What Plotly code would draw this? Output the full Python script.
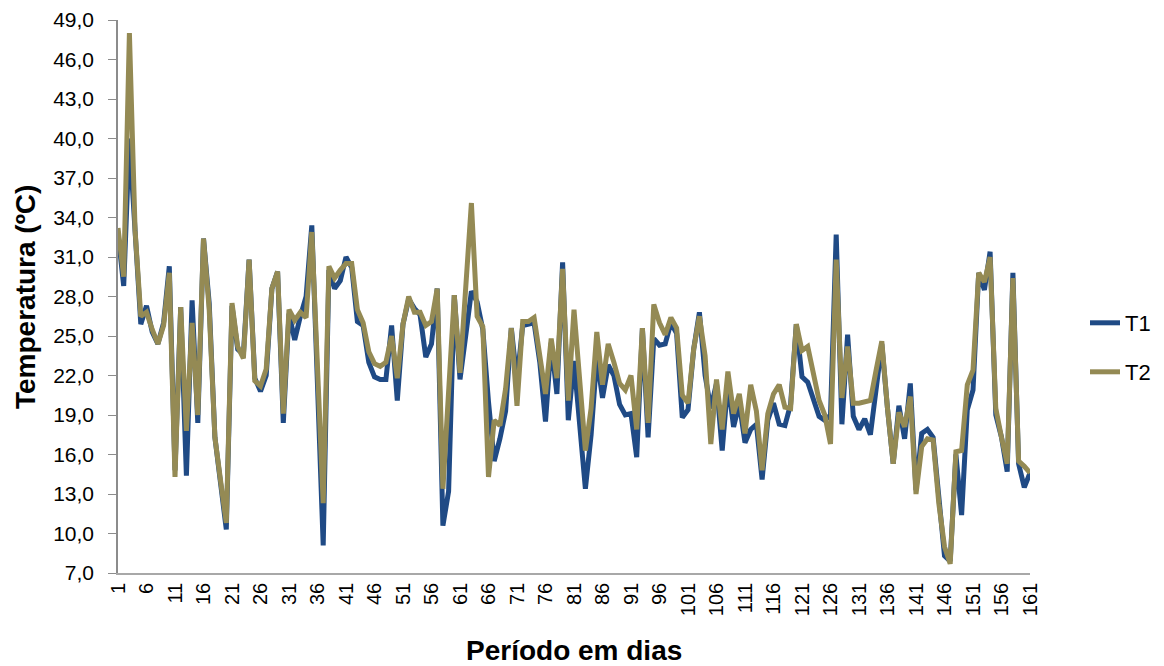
import plotly.graph_objects as go

days = list(range(1, 162))

t1 = [32.8, 28.8, 40.0, 33.0, 25.9, 27.3, 25.3, 24.4, 26.0, 30.3,
      14.8, 27.2, 14.4, 27.7, 18.4, 32.4, 27.5, 17.3, 13.8, 10.3,
      27.3, 24.0, 23.6, 30.8, 21.8, 20.8, 22.0, 28.6, 29.9, 18.4,
      26.7, 24.7, 26.5, 28.0, 33.4, 21.0, 9.1, 30.0, 28.6, 29.2,
      31.0, 30.2, 26.1, 25.8, 23.0, 21.9, 21.7, 21.7, 25.8, 20.1,
      25.9, 27.8, 27.1, 26.6, 23.4, 24.4, 28.6, 10.6, 13.2, 28.1,
      21.7, 25.0, 28.4, 27.6, 25.5, 20.0, 15.5, 17.2, 19.3, 25.6,
      21.6, 25.8, 25.9, 26.0, 23.0, 18.5, 24.5, 20.6, 30.6, 18.6,
      23.1, 18.3, 13.4, 17.5, 23.4, 20.3, 22.8, 22.0, 19.8, 19.0,
      19.1, 15.8, 25.6, 17.3, 24.8, 24.3, 24.4, 26.0, 25.2, 18.8,
      19.4, 24.0, 26.8, 22.0, 19.5, 21.4, 16.3, 21.5, 18.1, 19.9,
      16.9, 17.9, 18.3, 14.1, 18.6, 19.9, 18.3, 18.2, 19.8, 25.9,
      21.9, 21.5, 20.1, 18.9, 18.6, 19.0, 32.7, 18.3, 25.1, 18.9,
      17.9, 18.7, 17.5, 20.8, 24.4, 19.5, 15.3, 19.7, 17.2, 21.4,
      13.3, 17.6, 17.9, 17.3, 12.5, 8.3, 7.9, 16.0, 11.4, 19.4,
      20.9, 29.8, 28.5, 31.4, 19.0, 17.3, 14.7, 29.8, 15.3, 13.5,
      14.6]

t2 = [33.2, 29.5, 48.0, 33.0, 26.5, 26.8, 25.5, 24.4, 25.8, 29.8,
      14.3, 27.2, 17.8, 26.0, 19.0, 32.4, 27.0, 17.3, 14.0, 10.8,
      27.5, 24.2, 23.3, 30.8, 21.6, 21.2, 22.5, 28.6, 29.9, 19.1,
      27.0, 26.2, 26.8, 26.4, 32.9, 22.0, 12.3, 30.3, 29.4, 30.0,
      30.5, 30.5, 27.0, 26.0, 23.8, 22.9, 22.7, 23.0, 25.0, 21.8,
      25.9, 28.0, 26.8, 26.8, 25.8, 26.1, 28.6, 13.4, 20.5, 28.1,
      22.2, 28.5, 35.1, 26.5, 25.7, 14.3, 18.6, 18.2, 21.0, 25.6,
      19.7, 26.1, 26.1, 26.4, 23.5, 20.6, 24.8, 21.8, 30.1, 20.1,
      27.0, 21.0, 16.3, 19.5, 25.3, 21.3, 24.4, 23.0, 21.4, 20.9,
      22.0, 17.9, 25.6, 18.4, 27.4, 26.0, 25.1, 26.4, 25.6, 20.5,
      19.9, 24.0, 26.5, 23.5, 16.8, 21.7, 17.9, 22.3, 19.1, 20.6,
      17.6, 21.3, 19.3, 14.8, 19.1, 20.6, 21.3, 19.6, 19.5, 25.9,
      23.9, 24.2, 21.9, 20.1, 19.0, 16.8, 30.8, 20.3, 24.2, 19.9,
      19.9, 20.0, 20.1, 22.4, 24.6, 19.5, 15.3, 19.2, 18.1, 20.4,
      13.0, 16.6, 17.2, 17.1, 12.3, 9.0, 7.7, 16.2, 16.3, 21.3,
      22.4, 29.8, 29.1, 31.0, 19.5, 17.3, 15.3, 29.4, 15.5, 15.1,
      14.6]

x_ticks = list(range(1, 162, 5))
y_ticks = [7 + 3 * i for i in range(15)]

FONT = "Liberation Sans, Arial, sans-serif"
C_T1 = "#1F4A85"
C_T2 = "#948A54"

# page has an 8px body margin; compensate so the plot lands where the reference has it
W, H = 1156, 658
L, R, T, B = 110, 134, 12, 93
PW = W - L - R
PH = H - T - B


def px_x(page_x):
    return (page_x - 8 - L) / PW


def px_y(page_y):
    return (H - B - (page_y - 8)) / PH


fig = go.Figure()
fig.add_trace(go.Scatter(x=days, y=t1, mode="lines", name="T1",
                         line=dict(color=C_T1, width=5), legend="legend"))
fig.add_trace(go.Scatter(x=days, y=t2, mode="lines", name="T2",
                         line=dict(color=C_T2, width=5), legend="legend2"))

leg_common = dict(xanchor="left", yanchor="middle",
                  font=dict(size=22, family=FONT, color="#000000"),
                  bgcolor="rgba(0,0,0,0)", borderwidth=0)

fig.update_layout(
    width=W, height=H,
    margin=dict(l=L, r=R, t=T, b=B, autoexpand=False),
    paper_bgcolor="white", plot_bgcolor="white",
    separators=",.",
    font=dict(family=FONT, size=21, color="#000000"),
    showlegend=True,
    legend=dict(x=px_x(1085), y=px_y(323), **leg_common),
    legend2=dict(x=px_x(1085), y=px_y(372), **leg_common),
    xaxis=dict(range=[1, 161], tickmode="array", tickvals=x_ticks,
               ticktext=[str(v) for v in x_ticks], tickangle=-90,
               showgrid=False, zeroline=False, showline=True,
               linecolor="#A8A8A8", linewidth=1.5, ticks="",
               tickfont=dict(size=20, family=FONT)),
    yaxis=dict(range=[7, 49], tickmode="array", tickvals=y_ticks,
               tickformat=".1f", showgrid=False, zeroline=False,
               showline=True, linecolor="#8C8C8C", linewidth=1.5,
               ticks="outside", ticklen=8, tickcolor="#8C8C8C",
               ticklabelstandoff=10,
               tickfont=dict(size=21, family=FONT)),
    annotations=[
        dict(text="<b>Temperatura (ºC)</b>", x=px_x(25), y=px_y(297),
             xref="paper", yref="paper", showarrow=False,
             textangle=-90, font=dict(size=28, family=FONT),
             xanchor="center", yanchor="middle"),
        dict(text="<b>Período em dias</b>", x=px_x(574), y=px_y(650),
             xref="paper", yref="paper", showarrow=False,
             font=dict(size=28, family=FONT),
             xanchor="center", yanchor="middle"),
    ],
)

fig.write_html("out.html")
